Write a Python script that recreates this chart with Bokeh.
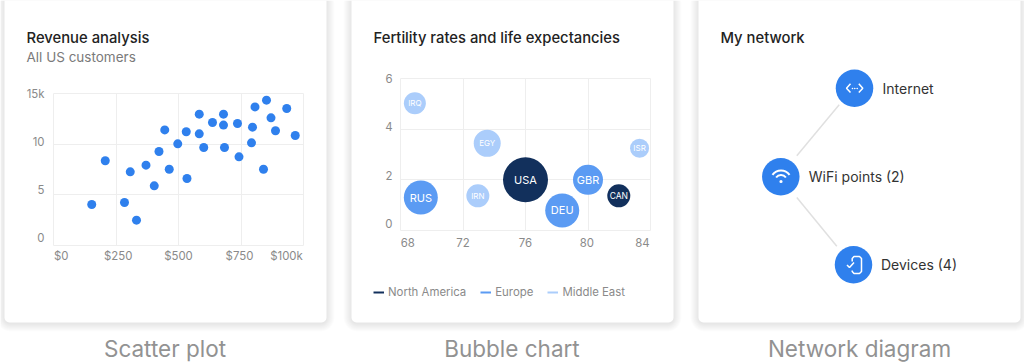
from bokeh.plotting import figure
from bokeh.embed import file_html
from bokeh.resources import INLINE
from bokeh.models import (BoxAnnotation, Label, Range1d, FixedTicker, Legend, LegendItem,
                          ColumnDataSource)
from bokeh.core.properties import value

# ---- data ----
scatter_x = [153, 207, 284, 307, 332, 370, 403, 422, 445, 463, 497, 531, 534, 583, 583, 601,
             636, 680, 680, 684, 736, 742, 796, 792, 806, 840, 852, 870, 888, 933, 967]
scatter_y = [4.05, 8.36, 4.24, 7.27, 2.5, 7.93, 5.89, 9.28, 11.41, 7.53, 10.03, 11.22, 6.61, 12.96, 11.02, 9.67,
             12.14, 12.96, 11.88, 9.67, 12.04, 8.75, 11.68, 10.13, 13.68, 7.53, 14.34, 12.6, 11.32, 13.52, 10.86]
scatter_x_grid = [0, 250, 500, 750, 1000]
scatter_y_grid = [0, 5, 10, 15]
scatter_x_labels = {31: "$0", 259: "$250", 500: "$500", 744: "$750", 932: "$100k"}
scatter_y_labels = {0.7: "0", 5.45: "5", 10.2: "10", 15: "15k"}

bubble_code = ["USA", "CAN", "RUS", "DEU", "GBR", "IRQ", "EGY", "IRN", "ISR"]
bubble_x = [76.0, 81.97, 69.3, 78.35, 80.0, 68.92, 73.55, 72.95, 83.3]
bubble_y = [2.0, 1.37, 1.3, 0.79, 2.0, 5.02, 3.44, 1.37, 3.25]
bubble_d = [45, 23, 34, 34, 30, 22, 27, 23, 19]
bubble_region = ["North America", "North America", "Europe", "Europe", "Europe",
                 "Middle East", "Middle East", "Middle East", "Middle East"]
bubble_font = ["11px", "8.5px", "11px", "11px", "11px", "8px", "8px", "8px", "8px"]
bubble_x_grid = [68, 72, 76, 80, 84]
bubble_y_grid = [0, 2, 4, 6]
bubble_x_labels = {68.47: "68", 72.0: "72", 76.0: "76", 79.92: "80", 83.48: "84"}
bubble_y_labels = {0.27: "0", 2.18: "2", 4.09: "4", 6: "6"}
regions = ["North America", "Europe", "Middle East"]
region_colors = {"North America": "#12305c", "Europe": "#5b9bf3", "Middle East": "#abcdfb"}

node_names = ["Internet", "WiFi points (2)", "Devices (4)"]
node_x = [854, 780.3, 853]
node_y = [87.7, 176.3, 264.3]
edge_x0 = [838.7, 796.3]
edge_y0 = [104.3, 197]
edge_x1 = [796.3, 836.3]
edge_y1 = [155.3, 245.7]

titles = ["Revenue analysis", "Fertility rates and life expectancies", "My network"]
subtitle = "All US customers"
captions = ["Scatter plot", "Bubble chart", "Network diagram"]

FONT = "Inter"
TITLE_FONT = "'Inter Medium', Inter"
INK = "#222222"
MUTED = "#8a8a8a"
GRID = "#eeeeee"
BLUE = "#2f80ed"
H = 364
W = 1024

card_lefts = [4, 351, 698]
CARD_W = 322
CARD_B = 322


def page_figure(left, width, frame_l, frame_r, frame_t, frame_b):
    p = figure(width=width, height=H, output_backend="svg", toolbar_location=None,
               min_border_left=frame_l, min_border_right=width - frame_r,
               min_border_top=frame_t, min_border_bottom=H - frame_b)
    p.styles = {"position": "absolute", "left": f"{left}px", "top": "0px"}
    p.outline_line_color = GRID
    p.background_fill_color = None
    p.border_fill_color = None
    return p


def bare(p):
    p.outline_line_color = None
    p.grid.visible = False
    p.axis.visible = False


# ---- background: cards, titles, captions, legend ----
bg = page_figure(0, W, 0, W, 0, H)
bg.border_fill_color = "white"
bg.x_range = Range1d(0, W)
bg.y_range = Range1d(H, 0)
bare(bg)
for l, title, cap_x, cap in zip(card_lefts, titles, [164.5, 511.5, 859], captions):
    for i in range(8):
        grow = 8 - i
        bg.add_layout(BoxAnnotation(left=l - grow, right=l + CARD_W + grow, top=-10, bottom=CARD_B + grow + 1,
                                    fill_color="black", fill_alpha=0.012, line_color=None,
                                    border_radius=6 + grow, level="image"))
    bg.add_layout(BoxAnnotation(left=l, right=l + CARD_W, top=-10, bottom=CARD_B,
                                fill_color="white", fill_alpha=1, line_color=None, border_radius=5,
                                level="image"))
    bg.add_layout(Label(x=l + 22, y=46, text=title, text_font=TITLE_FONT, text_font_size="14.8px", text_color=INK))
    bg.add_layout(Label(x=cap_x, y=361, text=cap, text_font=FONT, text_font_size="22.5px",
                        text_color="#929292", text_align="center"))
bg.add_layout(Label(x=26, y=64, text=subtitle, text_font=FONT, text_font_size="13.5px", text_color="#7a7a7a"))
items = []
for r in regions:
    # drawn outside the visible range: only its legend key shows
    g = bg.line([-20, -10], [-20, -20], line_color=region_colors[r], line_width=2)
    items.append(LegendItem(label=r, renderers=[g]))
legend = Legend(items=items, orientation="horizontal", location=(373, H - 299),
                glyph_width=11, glyph_height=12, label_standoff=4, spacing=14, padding=0, margin=0,
                border_line_color=None, background_fill_alpha=0,
                label_text_font=FONT, label_text_font_size="11.4px", label_text_color=MUTED)
bg.add_layout(legend, "center")


def style_axes(p, xt, yt, xg, yg, x_standoff, y_standoff):
    p.xaxis.ticker = FixedTicker(ticks=list(xt))
    p.yaxis.ticker = FixedTicker(ticks=list(yt))
    p.xaxis.major_label_overrides = xt
    p.yaxis.major_label_overrides = yt
    p.xgrid.ticker = FixedTicker(ticks=xg)
    p.ygrid.ticker = FixedTicker(ticks=yg)
    p.xgrid.grid_line_color = GRID
    p.ygrid.grid_line_color = GRID
    for a in (p.xaxis[0], p.yaxis[0]):
        a.axis_line_color = None
        a.major_tick_line_color = None
        a.minor_tick_line_color = None
        a.major_label_text_font = FONT
        a.major_label_text_font_size = "11.4px"
        a.major_label_text_color = MUTED
    p.xaxis.major_label_standoff = x_standoff
    p.yaxis.major_label_standoff = y_standoff


# ---- scatter ----
p1 = page_figure(0, 338, 53, 303, 93, 245)
p1.x_range = Range1d(0, 1000)
p1.y_range = Range1d(0, 15)
style_axes(p1, scatter_x_labels, scatter_y_labels, scatter_x_grid, scatter_y_grid, -3, 3)
p1.scatter(scatter_x, scatter_y, size=9, fill_color=BLUE, line_color=None)

# ---- bubble ----
p2 = page_figure(338, 348, 62, 312, 78, 230)
p2.x_range = Range1d(68, 84)
p2.y_range = Range1d(0, 6)
style_axes(p2, bubble_x_labels, bubble_y_labels, bubble_x_grid, bubble_y_grid, 1, 2)
src = ColumnDataSource(dict(x=bubble_x, y=bubble_y, d=bubble_d, code=bubble_code, font=bubble_font,
                            c=[region_colors[r] for r in bubble_region]))
p2.scatter("x", "y", size="d", fill_color="c", line_color=None, source=src)
p2.text("x", "y", text="code", text_font=value(FONT), text_font_size="font", text_color="white",
        text_align="center", text_baseline="middle", source=src)

# ---- network (drawn in the full-page figure's units) ----
bg.segment(edge_x0, edge_y0, edge_x1, edge_y1, line_color="#e0e0e0", line_width=1.5)
bg.scatter(node_x, node_y, size=37.5, fill_color=BLUE, line_color=None)
bg.text([x + d for x, d in zip(node_x, [28, 28, 27.5])], node_y, text=node_names, text_font=value(FONT),
        text_font_size="14px", text_color="#333333", text_baseline="middle")
ICON = dict(line_color="white", line_width=1.5)
bg.multi_line([[850, 846, 850], [858.3, 862.3, 858.3]], [[83.3, 87.7, 92], [83.3, 87.7, 92]], **ICON)
bg.scatter([852, 854.3, 856.7], [88, 88, 88], size=1.6, fill_color="white", line_color=None)
bg.arc([780.5, 780.5], [180.5, 180.5], radius=[10.5, 6], start_angle=0.62, end_angle=2.52,
       line_color="white", line_width=2)
bg.scatter([780.5], [181], size=3.2, fill_color="white", line_color=None)
bg.line([851.7, 851.7, 853.5, 859, 861, 861, 859, 853.5, 851.7, 851.7],
        [261, 258, 256, 256, 258, 271, 273, 273, 271, 270], **ICON)
bg.line([846.5, 849, 853.5], [264.5, 267, 262], **ICON)

open("out.html", "w").write(file_html((bg, p1, p2), INLINE))
